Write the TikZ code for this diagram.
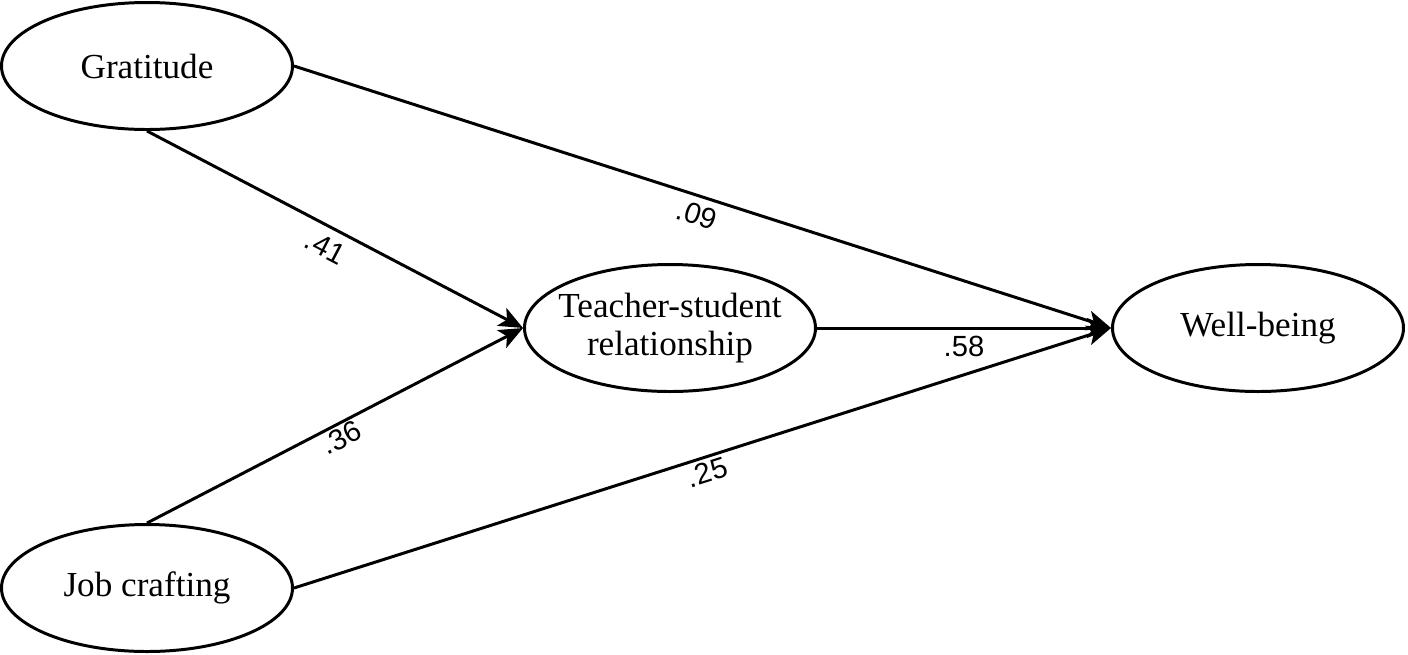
\documentclass[tikz,border=0pt]{standalone}
\usepackage{fontspec}
\setmainfont{Liberation Serif}
\newfontfamily\labelfont{Liberation Sans}
\usetikzlibrary{shapes.geometric,arrows.meta}
\tikzset{
  latentvar/.style={ellipse, draw, line width=0.85pt, minimum width=2.91cm, minimum height=1.27cm, inner sep=0pt, align=center, font=\fontsize{10}{10.8}\selectfont},
  pathlabel/.style={font=\labelfont\fontsize{8.3}{9}\selectfont},
  patharrow/.style={-{Stealth[length=0.24cm, width=0.2cm, inset=0.06cm]}, line width=0.85pt}
}
\newcommand{\semlatent}[4] {\node at (#1) (#2) [latentvar, #4] {#3};}
\newcommand{\sempath}[4] {\draw [patharrow] (#1) -- (#2) node [pathlabel, #4] {#3};}

\begin{document}
\begin{tikzpicture}
\useasboundingbox (0,0) rectangle (14.08,6.54);
\semlatent {1.47,5.88} {grat} {Gratitude} {};
\semlatent {1.47,0.66} {job} {Job crafting} {};
\semlatent {6.70,3.26} {tsr} {Teacher-student\\relationship} {inner xsep=-0.09cm};
\semlatent {12.58,3.26} {well} {Well-being} {};

\sempath{grat.east}{well.west}{.09}{midway, sloped, below, inner sep=2pt};
\sempath{grat.south}{tsr.west}{.41}{midway, sloped, below, inner sep=2.5pt};
\sempath{job.north}{tsr.west}{.36}{midway, sloped, below, inner sep=0.5pt};
\sempath{job.east}{well.west}{.25}{midway, sloped, below, inner sep=1pt};
\sempath{tsr.east}{well.west}{.58}{midway, below, inner sep=2pt};
\end{tikzpicture}
\end{document}
